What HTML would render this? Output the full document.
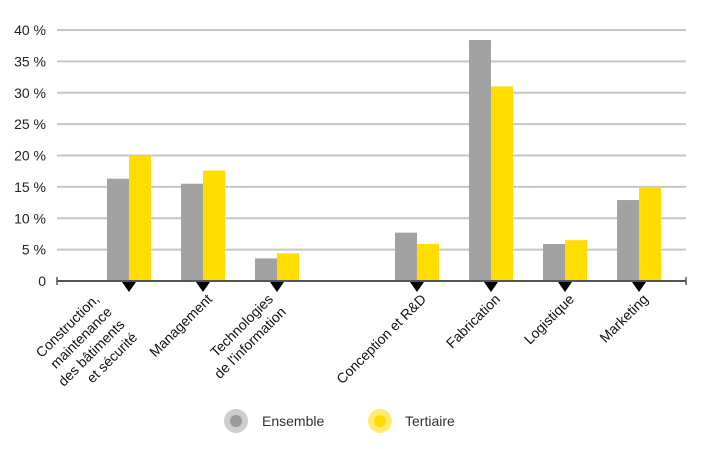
<!DOCTYPE html>
<html><head><meta charset="utf-8"><style>
html,body{margin:0;padding:0;background:#fff;}
svg{display:block;font-family:"Liberation Sans",sans-serif;}
</style></head><body>
<svg id="chart" width="704" height="449" viewBox="0 0 704 449">
<g id="grid"></g>
<g id="yticks"></g>
<g id="bars"></g>
<g id="axis"></g>
<g id="xlabels"></g>
<g>
  <g>
    <circle cx="236" cy="421" r="12" fill="#cdcdcd"/><circle cx="236" cy="421" r="6" fill="#9a9a9a"/>
    <text x="262" y="426" font-size="14" fill="#333">Ensemble</text>
  </g>
  <g>
    <circle cx="380" cy="421" r="12" fill="#ffeb70"/><circle cx="380" cy="421" r="6" fill="#ffdc00"/>
    <text x="405" y="426" font-size="14" fill="#333">Tertiaire</text>
  </g>
</g>
</svg>
<script>
const categories = [["Construction,","maintenance","des bâtiments","et sécurité"],["Management"],["Technologies","de l'information"],["Conception et R&D"],["Fabrication"],["Logistique"],["Marketing"]];
const ensemble = [16.3, 15.5, 3.6, 7.7, 38.4, 5.9, 12.9];
const tertiaire = [20.0, 17.6, 4.4, 5.9, 31.0, 6.5, 15.0];
const yTicks = [0,5,10,15,20,25,30,35,40];
const yTickLabels = ["0","5 %","10 %","15 %","20 %","25 %","30 %","35 %","40 %"];

const NS="http://www.w3.org/2000/svg";
function mk(tag, attrs, parent){const e=document.createElementNS(NS,tag);for(const k in attrs)e.setAttribute(k,attrs[k]);parent.appendChild(e);return e;}
const y0=281, yTop=30, x0=57, x1=686;
function yScale(v){return y0-(v/40)*(y0-yTop);}
function xCenter(i){return 129 + i*74 + (i>=3?66:0);}
const bw=22;

const grid=document.getElementById('grid');
const yt=document.getElementById('yticks');
yTicks.forEach((t,i)=>{
  if(t>0){const l=mk('line',{x1:x0,x2:x1,y1:yScale(t),y2:yScale(t),stroke:'#c6c6c6','stroke-width':2},grid);
  
  }
  const tx=mk('text',{x:46,y:yScale(t)+5,'text-anchor':'end','font-size':14,fill:'#222'},yt);
  
  
  tx.textContent=yTickLabels[i];
});

const bars=document.getElementById('bars');
categories.forEach((c,i)=>{
  const cx=xCenter(i);
  const b1=mk('rect',{x:cx-bw,y:yScale(ensemble[i]),width:bw,height:y0-yScale(ensemble[i]),fill:'#a2a2a2'},bars);
  
  
  const b2=mk('rect',{x:cx,y:yScale(tertiaire[i]),width:bw,height:y0-yScale(tertiaire[i]),fill:'#ffdd00'},bars);
  
  
});

const axis=document.getElementById('axis');
mk('line',{x1:x0,x2:x1,y1:y0,y2:y0,stroke:'#555','stroke-width':2},axis);
mk('line',{x1:x0,x2:x0,y1:y0-4,y2:y0+4,stroke:'#555','stroke-width':1.5},axis);
mk('line',{x1:x1,x2:x1,y1:y0-4,y2:y0+4,stroke:'#555','stroke-width':1.5},axis);
const xl=document.getElementById('xlabels');
categories.forEach((lines,i)=>{
  const cx=xCenter(i);
  const m=mk('polygon',{points:`${cx-7},${y0+1} ${cx+7},${y0+1} ${cx},${y0+11}`,fill:'#000'},axis);
  
  
  const n=lines.length;
  const ax=cx+10-(n-1)*13, ay=300;
  const t=mk('text',{transform:`translate(${ax},${ay}) rotate(-45)`,'text-anchor':'end','font-size':14,fill:'#111'},xl);
  
  
  lines.forEach((s,k)=>{const ts=mk('tspan',{x:0,dy:k===0?0:18},t);ts.textContent=s;});
});
</script>
</body></html>
